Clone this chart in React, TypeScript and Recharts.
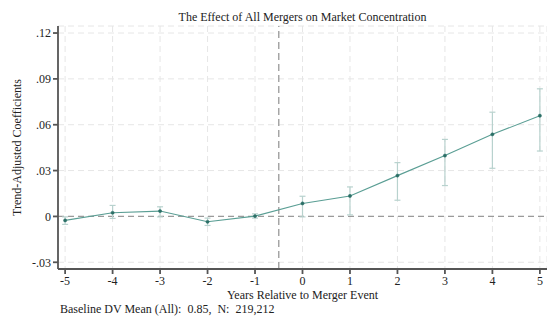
import { ComposedChart, Line, XAxis, YAxis, CartesianGrid, ReferenceLine, ErrorBar } from 'recharts';

const years = [-5, -4, -3, -2, -1, 0, 1, 2, 3, 4, 5];
const coefs = [-0.0026, 0.0024, 0.0035, -0.0035, 0.0002, 0.0085, 0.0134, 0.0267, 0.0398, 0.0537, 0.0659];
const lower = [-0.0052, -0.0013, -0.0003, -0.0059, -0.0011, -0.0003, 0.001, 0.0106, 0.0202, 0.0315, 0.0428];
const upper = [-0.0003, 0.0072, 0.0063, -0.0011, 0.0017, 0.0132, 0.0193, 0.0352, 0.0504, 0.0682, 0.0835];
const yTicks = [-0.03, 0, 0.03, 0.06, 0.09, 0.12];

const data = years.map((year, i) => ({
  year,
  coef: coefs[i],
  err: [coefs[i] - lower[i], upper[i] - coefs[i]],
}));

const font = '"Liberation Serif", serif';

// Stata-style labels: drop the leading zero
const fmtY = (v: number) => {
  if (v === 0) return '0';
  const s = v.toFixed(2);
  return s.replace(/^(-?)0\./, '$1.');
};

export default function App() {
  return (
    <div style={{ position: 'fixed', top: 0, left: 0, width: 547, height: 319, background: '#fff', fontFamily: font }}>
      <div style={{ position: 'absolute', top: 9, left: 58, width: 489, textAlign: 'center', fontSize: 12, color: '#222', lineHeight: '16px' }}>
        The Effect of All Mergers on Market Concentration
      </div>
      <ComposedChart width={547} height={319} data={data} margin={{ top: 26, right: 0, bottom: 0, left: 0 }}>
        <CartesianGrid stroke="#e6e6e6" strokeDasharray="6 4" />
        <XAxis
          dataKey="year"
          type="number"
          domain={[-5.15, 5.15]}
          ticks={years}
          allowDataOverflow
          height={50}
          tickSize={5}
          tickMargin={2}
          stroke="#555"
          strokeWidth={1.8}
          tick={{ fill: '#222', fontSize: 12, fontFamily: font }}
          label={{ value: 'Years Relative to Merger Event', position: 'insideTop', offset: 21, fill: '#222', fontSize: 12, fontFamily: font }}
        />
        <YAxis
          type="number"
          domain={[-0.0344, 0.1246]}
          ticks={yTicks}
          allowDataOverflow
          width={58}
          tickSize={5}
          tickMargin={2}
          tickFormatter={fmtY}
          stroke="#555"
          strokeWidth={1.8}
          tick={{ fill: '#222', fontSize: 12, fontFamily: font }}
          label={{ value: 'Trend-Adjusted Coefficients', angle: -90, position: 'center', dx: -12, fill: '#222', fontSize: 12, fontFamily: font }}
        />
        <ReferenceLine y={0} stroke="#9a9a9a" strokeDasharray="6 4" strokeWidth={1.2} />
        <ReferenceLine x={-0.5} stroke="#a0a0a0" strokeDasharray="7 4" strokeWidth={1.4} />
        <Line
          dataKey="coef"
          type="linear"
          stroke="#5a9e94"
          strokeWidth={1.1}
          dot={{ r: 1.6, fill: '#2b6f66', stroke: '#2b6f66', strokeWidth: 0.5 }}
          isAnimationActive={false}
        >
          <ErrorBar dataKey="err" direction="y" width={3} stroke="#b8d2ce" strokeWidth={1.2} isAnimationActive={false} />
        </Line>
      </ComposedChart>
      <div style={{ position: 'absolute', top: 302, left: 60, fontSize: 12, color: '#222', lineHeight: '14px', whiteSpace: 'pre' }}>
        {'Baseline DV Mean (All):  0.85,  N:  219,212'}
      </div>
    </div>
  );
}
